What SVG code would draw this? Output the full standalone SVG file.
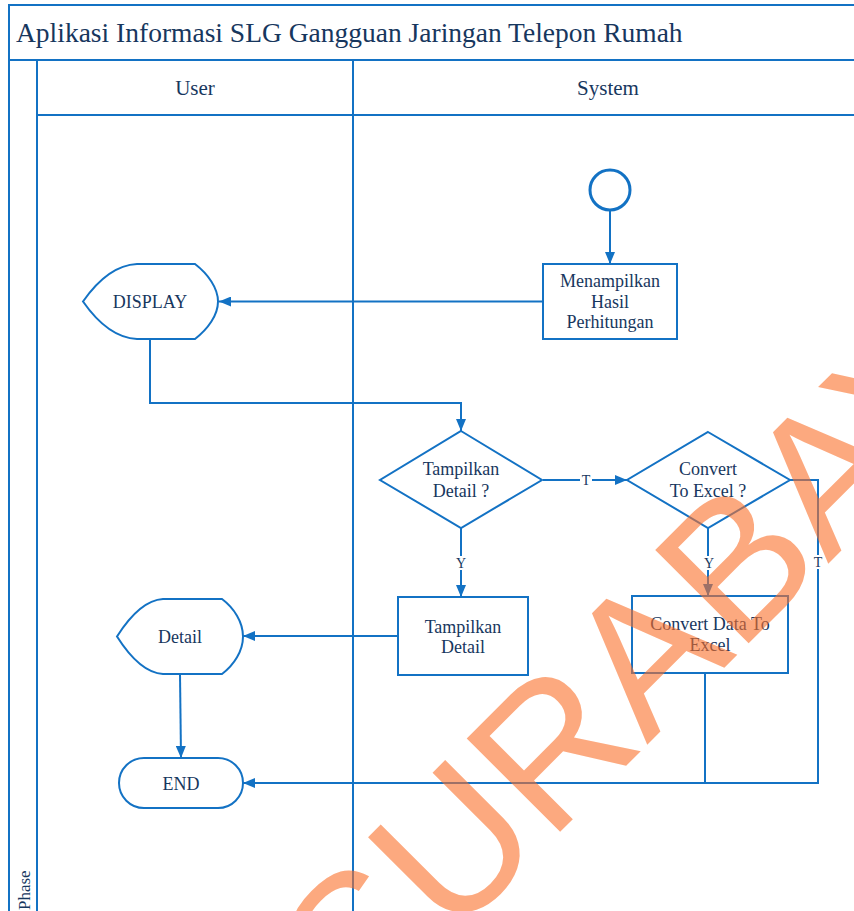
<svg xmlns="http://www.w3.org/2000/svg" width="854" height="911" viewBox="0 0 854 911">
  <style>
    .frame { fill: none; stroke: #1372C4; stroke-width: 2; }
    .shape { fill: #ffffff; stroke: #1372C4; stroke-width: 2; }
    .line { fill: none; stroke: #1372C4; stroke-width: 2; }
    .txt { font-family: "Liberation Serif", "Times New Roman", serif; fill: #17375E; text-anchor: middle; }
    .node { font-size: 18px; }
    .lbl { font-size: 14px; }
    .lblbg { fill: #ffffff; stroke: none; }
    .mark { font-family: "Liberation Sans", Arial, sans-serif; font-size: 192px; fill: #FA702A; fill-opacity: 0.6; text-anchor: middle; }
  </style>
  <defs>
    <marker id="arrow" markerUnits="userSpaceOnUse" markerWidth="12" markerHeight="10" refX="12" refY="5" orient="auto">
      <path d="M0,0 L12,5 L0,10 Z" fill="#1372C4"/>
    </marker>
  </defs>

  <rect x="0" y="0" width="854" height="911" fill="#ffffff"/>

  <!-- swimlane frame -->
  <g id="pool">
    <path class="frame" d="M9,930 L9,5 L870,5"/>
    <line class="frame" x1="9" y1="60" x2="870" y2="60"/>
    <line class="frame" x1="37" y1="60" x2="37" y2="930"/>
    <line class="frame" x1="37" y1="115" x2="870" y2="115"/>
    <line class="frame" x1="353" y1="60" x2="353" y2="930"/>
    <text class="txt" x="16" y="42" style="font-size:27.5px;text-anchor:start">Aplikasi Informasi SLG Gangguan Jaringan Telepon Rumah</text>
    <text class="txt" x="195" y="95" style="font-size:21px">User</text>
    <text class="txt" x="608" y="95" style="font-size:21px">System</text>
    <text class="txt" transform="translate(30,910) rotate(-90)" style="font-size:17px;text-anchor:start">Phase</text>
  </g>

  <!-- connectors -->
  <g id="connectors">
    <line class="line" x1="610" y1="210" x2="610" y2="264" marker-end="url(#arrow)"/>
    <line class="line" x1="543" y1="301.5" x2="219" y2="301.5" marker-end="url(#arrow)"/>
    <path class="line" d="M150,339 L150,403 L461,403 L461,431" marker-end="url(#arrow)"/>
    <line class="line" x1="543" y1="480" x2="627" y2="480" marker-end="url(#arrow)"/>
    <line class="line" x1="461" y1="528" x2="461" y2="597" marker-end="url(#arrow)"/>
    <line class="line" x1="708" y1="528" x2="708" y2="596" marker-end="url(#arrow)"/>
    <line class="line" x1="398" y1="636" x2="243" y2="636" marker-end="url(#arrow)"/>
    <line class="line" x1="180" y1="674" x2="181" y2="758" marker-end="url(#arrow)"/>
    <path class="line" d="M790,480 L818,480 L818,783 L243,783" marker-end="url(#arrow)"/>
    <line class="line" x1="705" y1="673" x2="705" y2="783"/>
    <!-- branch labels -->
    <rect class="lblbg" x="580" y="473" width="12" height="14"/>
    <text class="txt lbl" x="586" y="485">T</text>
    <rect class="lblbg" x="455" y="556" width="12" height="14"/>
    <text class="txt lbl" x="461" y="568">Y</text>
    <rect class="lblbg" x="703" y="556" width="12" height="14"/>
    <text class="txt lbl" x="709" y="568">Y</text>
    <rect class="lblbg" x="812" y="555" width="12" height="14"/>
    <text class="txt lbl" x="818" y="567">T</text>
  </g>

  <g id="start">
    <circle cx="610" cy="190" r="20" fill="#ffffff" stroke="#1372C4" stroke-width="3"/>
  </g>

  <g id="menampilkan-hasil">
    <rect class="shape" x="543" y="264" width="134" height="75"/>
    <text class="txt node" x="610" y="287">Menampilkan</text>
    <text class="txt node" x="610" y="307.5">Hasil</text>
    <text class="txt node" x="610" y="328">Perhitungan</text>
  </g>

  <g id="display">
    <path class="shape" d="M83,301.5 C98,280 116,265 137,264 L195,264 C208,274 218,288 218,301.5 C218,315 208,329 195,339 L137,339 C116,338 98,323 83,301.5 Z"/>
    <text class="txt node" x="150" y="308">DISPLAY</text>
  </g>

  <g id="tampilkan-detail-decision">
    <path class="shape" d="M461,431 L542,480 L461,528 L380,480 Z"/>
    <text class="txt node" x="461" y="475">Tampilkan</text>
    <text class="txt node" x="461" y="497">Detail ?</text>
  </g>

  <g id="convert-decision">
    <path class="shape" d="M708,432 L790,480 L708,528 L627,480 Z"/>
    <text class="txt node" x="708" y="475">Convert</text>
    <text class="txt node" x="708" y="497">To Excel ?</text>
  </g>

  <g id="tampilkan-detail">
    <rect class="shape" x="398" y="597" width="130" height="78"/>
    <text class="txt node" x="463" y="633">Tampilkan</text>
    <text class="txt node" x="463" y="653">Detail</text>
  </g>

  <g id="convert-data">
    <rect class="shape" x="632" y="596" width="156" height="77"/>
    <text class="txt node" x="710" y="630">Convert Data To</text>
    <text class="txt node" x="710" y="651">Excel</text>
  </g>

  <g id="detail">
    <path class="shape" d="M117,636.5 C130,616 146,600 163,599 L222,599 C234,608 243,622 243,636.5 C243,651 234,665 222,674 L163,674 C146,673 130,657 117,636.5 Z"/>
    <text class="txt node" x="180" y="643">Detail</text>
  </g>

  <g id="end">
    <rect class="shape" x="119" y="758" width="124" height="50" rx="25" ry="25"/>
    <text class="txt node" x="181" y="790">END</text>
  </g>

  <!-- diagonal watermark -->
  <text class="mark" transform="translate(720,672) rotate(-45)">SURABAYA</text>
</svg>
